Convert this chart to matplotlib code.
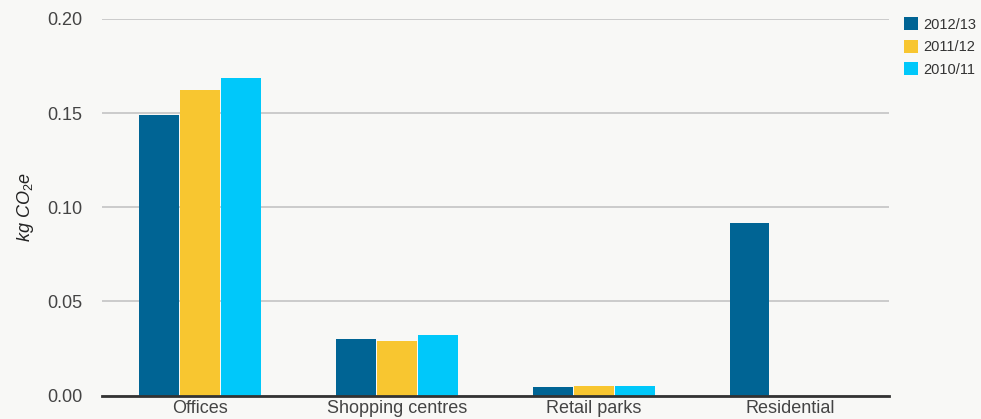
import matplotlib
matplotlib.use("Agg")
import matplotlib.pyplot as plt
import numpy as np

categories = ["Offices", "Shopping centres", "Retail parks", "Residential"]
series_names = ["2012/13", "2011/12", "2010/11"]
values_2012_13 = [0.149, 0.030, 0.0045, 0.0916]
values_2011_12 = [0.1623, 0.029, 0.005, 0.0]
values_2010_11 = [0.1687, 0.032, 0.005, 0.0]
colors = ["#006494", "#f8c630", "#00c8fa"]
y_ticks = [0.00, 0.05, 0.10, 0.15, 0.20]

plt.rcParams["font.family"] = ["Liberation Sans", "DejaVu Sans"]
plt.rcParams["mathtext.fontset"] = "custom"
plt.rcParams["mathtext.it"] = "Liberation Sans:italic"
plt.rcParams["mathtext.rm"] = "Liberation Sans"

bg = "#f8f8f6"
text_col = "#444444"

fig = plt.figure(figsize=(9.81, 4.19), dpi=100, facecolor=bg)
ax = fig.add_axes([0.104, 0.056, 0.802, 0.899], facecolor=bg)

x = np.arange(len(categories))
w = 0.203
gap = 0.005
all_series = [values_2012_13, values_2011_12, values_2010_11]
for i, (vals, name, c) in enumerate(zip(all_series, series_names, colors)):
    offs = (i - 1) * (w + gap)
    ax.bar(x + offs, vals, width=w, color=c, label=name, zorder=3)

ax.set_xlim(-0.5, len(categories) - 0.5)
ax.set_ylim(0, 0.20)
ax.set_yticks(y_ticks)
ax.set_yticklabels([f"{t:.2f}" for t in y_ticks])
ax.set_xticks(x)
ax.set_xticklabels(categories)
ax.grid(axis="y", color="#c8c8c8", linewidth=1.3, zorder=0)
for s in ["top", "right", "left"]:
    ax.spines[s].set_visible(False)
ax.spines["bottom"].set_color("#333333")
ax.spines["bottom"].set_linewidth(2)
ax.spines["bottom"].set_zorder(4)
ax.tick_params(axis="both", length=0, labelsize=13, colors=text_col)
ax.tick_params(axis="y", pad=14)
ax.tick_params(axis="x", pad=3)

ax.set_ylabel(r"$kg\ CO_2e$", fontsize=13, color="#222222", labelpad=8)

fig.legend(loc="upper left", bbox_to_anchor=(0.908, 0.99), frameon=False,
           fontsize=10.5, handlelength=1.0, handleheight=1.0, handletextpad=0.3,
           labelspacing=0.55, labelcolor="#333333")

fig.savefig("out.png", dpi=100, facecolor=bg)
